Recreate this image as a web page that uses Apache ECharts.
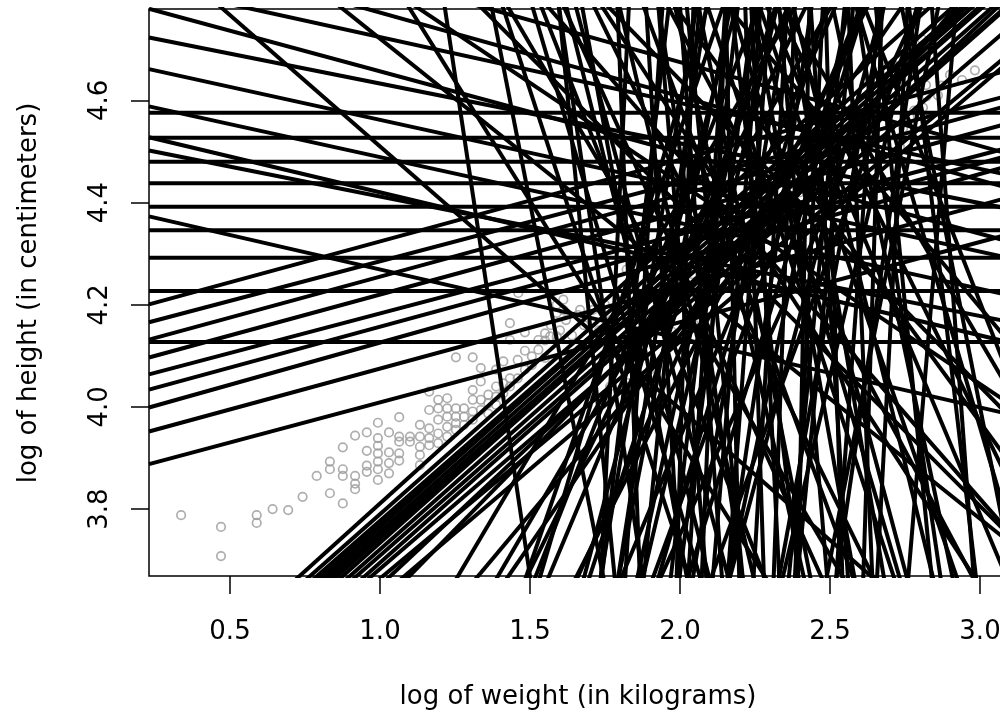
<!DOCTYPE html>
<html>
<head>
<meta charset="utf-8">
<script src="https://cdn.jsdelivr.net/npm/echarts@6/dist/echarts.min.js"></script>
<style>
  html, body { margin: 0; padding: 0; background: #fff; }
  #chart { width: 1000px; height: 722px; }
</style>
</head>
<body>
<div id="chart"></div>
<script>
// observed children: log of weight (kg) / log of height (cm)
const logWeight = [
  0.337, 0.470, 0.470, 0.589, 0.589, 0.642, 0.694, 0.742, 0.789, 0.833, 0.833, 0.833,
  0.876, 0.876, 0.876, 0.876, 0.917, 0.917, 0.917, 0.917, 0.956, 0.956, 0.956, 0.956,
  0.993, 0.993, 0.993, 0.993, 0.993, 0.993, 0.993, 1.030, 1.030, 1.030, 1.030,
  1.064, 1.064, 1.064, 1.064, 1.064, 1.100, 1.100, 1.133, 1.133, 1.133, 1.133, 1.133,
  1.164, 1.164, 1.164, 1.164, 1.164, 1.194, 1.194, 1.194, 1.194, 1.194,
  1.224, 1.224, 1.224, 1.224, 1.224, 1.253, 1.253, 1.253, 1.253, 1.253,
  1.280, 1.280, 1.280, 1.309, 1.309, 1.309, 1.309, 1.309, 1.336, 1.336, 1.336, 1.336,
  1.361, 1.361, 1.361, 1.387, 1.387, 1.387, 1.387, 1.411, 1.411, 1.411,
  1.433, 1.433, 1.433, 1.433, 1.459, 1.459, 1.483, 1.483, 1.483, 1.506, 1.506,
  1.528, 1.528, 1.550, 1.550, 1.567, 1.589, 1.589, 1.589, 1.611, 1.611, 1.461,
  2.983, 2.872, 2.806, 2.810, 2.733, 2.744, 2.700, 2.793, 2.822, 2.717, 2.733,
  1.989, 2.333, 2.250, 1.822, 2.161, 2.589, 1.667, 1.700, 1.839, 1.900, 1.828, 1.972, 1.767, 2.044,
  1.55, 1.57, 1.60, 1.62, 1.64, 1.66, 1.68, 1.71, 1.73, 1.75, 1.77, 1.80, 1.82, 1.85, 1.87,
  1.90, 1.93, 1.95, 1.98, 2.01, 2.04, 2.07, 2.10, 2.13, 2.16, 2.19, 2.22, 2.25, 2.28, 2.31,
  2.34, 2.37, 2.40, 2.43, 2.46, 2.49, 2.52, 2.55, 2.58, 2.61, 2.64, 2.67, 2.70, 2.74, 2.78,
  2.82, 2.86, 2.90, 2.94
];
const logHeight = [
  3.788, 3.765, 3.708, 3.788, 3.773, 3.800, 3.798, 3.824, 3.865, 3.893, 3.878, 3.831,
  3.921, 3.878, 3.865, 3.811, 3.944, 3.865, 3.850, 3.839, 3.950, 3.914, 3.885, 3.873,
  3.969, 3.939, 3.924, 3.909, 3.893, 3.878, 3.857, 3.950, 3.911, 3.890, 3.870,
  3.980, 3.942, 3.932, 3.909, 3.895, 3.942, 3.932, 3.965, 3.942, 3.922, 3.906, 3.886,
  3.994, 3.958, 3.939, 3.925, 4.030, 4.014, 3.997, 3.975, 3.948, 3.929,
  4.017, 3.997, 3.981, 3.961, 3.942, 4.097, 3.997, 3.981, 3.968, 3.955,
  3.997, 3.981, 3.965, 4.097, 4.033, 4.014, 3.991, 3.975, 4.076, 4.050, 4.014, 3.994,
  4.024, 4.007, 3.987, 4.073, 4.040, 4.020, 4.004, 4.089, 4.046, 4.027,
  4.164, 4.131, 4.056, 4.040, 4.092, 4.056, 4.146, 4.110, 4.073, 4.099, 4.082,
  4.131, 4.112, 4.144, 4.096, 4.138, 4.200, 4.184, 4.138, 4.190, 4.210, 4.223,
  4.659, 4.629, 4.720, 4.586, 4.510, 4.546, 4.530, 4.569, 4.608, 4.667, 4.680,
  4.360, 4.510, 4.497, 4.269, 4.239, 4.452, 4.190, 4.027, 4.095, 4.073, 4.063, 4.148, 4.040, 4.164,
  4.13, 4.16, 4.15, 4.17, 4.14, 4.18, 4.16, 4.19, 4.15, 4.20, 4.17, 4.22, 4.19, 4.23, 4.20,
  4.25, 4.22, 4.27, 4.24, 4.29, 4.26, 4.31, 4.28, 4.34, 4.31, 4.36, 4.33, 4.39, 4.36, 4.42,
  4.39, 4.44, 4.42, 4.47, 4.44, 4.49, 4.47, 4.52, 4.50, 4.54, 4.52, 4.57, 4.55, 4.60, 4.58,
  4.63, 4.61, 4.65, 4.64
];

// straight lines: height = intercept + slope * weight
const lineIntercept = [
  4.576, 4.527, 4.480, 4.438, 4.392, 4.346, 4.292, 4.227, 4.127,
  4.164, 4.130, 4.095, 4.060, 4.028, 3.997, 3.961, 3.915, 3.852,
  4.816, 4.750, 4.691, 4.618, 4.529, 4.404, 4.853, 4.936, 5.224, 5.003, 4.56,
  5.024, 5.191, 5.812, 5.567, 5.827, 8.590,
  3.281, 3.270, 3.262, 3.249, 3.240, 3.236, 3.233, 3.223, 3.209, 3.201, 3.194, 3.175, 3.178, 3.174, 3.128,
  2.419, 2.270, 2.455, 3.010, 2.740, 3.100,
  1.39, -0.03, -1.72, 0.61, -6.18, -1.025, 1.51, -3.485, -0.19, -4.97, 0.61, -2.39, -10.51, -1.10, -3.79,
  1.88, 0.60, -2.19, 0.30, -13.61, -3.80, 1.14, -1.35, 1.48, -0.185, -5.325, 1.15, -2.41, -6.42, 1.765,
  7.09, 9.28, 6.84, 10.97, 8.55, 9.73, 7.99, 11.81, 12.5, 7.79, 15.64, 9.13, 13.045, 7.57, 9.96,
  7.80, 6.21, 16.92, 6.94, 10.49, 6.37, 6.35, 15.14, 10.14, 6.88, 8.705, 6.295, 5.84, 8.90, 9.549,
  8.635, 9.94, 7.13, 18.28, 12.185, 13.0, 7.32,
  -17.17, 31.66, -12.69, 23.655, -36.11, 20.785, -25.35, 58.6, -11.1, 31.635,
  -18.785, 21.1, -68.145, 26.705, -10.68, 40.64, -16.5, 20.7, -25.56, 18.6,
  -7.61, 44.7, -33.33, 54.49, -43.33, 14.36, 27.5, -14.58, -24.93, -15.66,
  -5.03, 11.17, -3.15, 8.42, 1.14
];
const lineSlope = [
  0, 0, 0, 0, 0, 0, 0, 0, 0,
  0.16, 0.155, 0.16, 0.16, 0.155, 0.16, 0.165, 0.16, 0.157,
  -0.159, -0.117, -0.129, -0.129, -0.117, -0.135, -0.129, -0.164, -0.393, -0.164, -0.14,
  -0.514, -0.470, -0.939, -0.587, -0.669, -2.348,
  0.53, 0.52, 0.515, 0.52, 0.525, 0.52, 0.515, 0.52, 0.525, 0.52, 0.515, 0.52, 0.505, 0.49, 0.50,
  0.992, 1.004, 0.85, 0.60, 0.70, 0.55,
  1.5, 2.2, 3.0, 1.8, 5, 2.5, 1.3, 3.5, 2.0, 4, 1.6, 2.8, 6, 2.2, 3.2,
  1.2, 2.0, 2.5, 1.6, 8, 3, 1.4, 2.7, 1.4, 1.9, 4.5, 1.3, 3.5, 4, 1.15,
  -1.5, -2.5, -1.2, -3, -1.8, -2.2, -1.4, -2.8, -4, -1.6, -5, -2.0, -3.5, -1.2, -2.0,
  -2.0, -1.0, -6, -1.1, -2.4, -0.8, -0.9, -4, -3.2, -1.3, -1.5, -0.7, -0.6, -3, -3.92,
  -1.7, -2.6, -1.0, -7, -3.3, -3, -1.8,
  12, -15, 9, -10, 20, -8, 14, -25, 7, -12,
  10, -7, 30, -9, 6, -14, 8, -6, 11, -5,
  6, -18, 16, -20, 18, -6, -8, 9, 12, 7,
  5, -4, 3.8, -2.2, 1.7
];

const xTicks = [0.5, 1.0, 1.5, 2.0, 2.5, 3.0];
const yTicks = [3.8, 4.0, 4.2, 4.4, 4.6];

const X_MIN = 0.23, X_MAX = 3.09, Y_MIN = 3.669, Y_MAX = 4.779;
const FONT = 'DejaVu Sans';

const chart = echarts.init(document.getElementById('chart'), null, { renderer: 'canvas' });

const points = logWeight.map((w, i) => [w, logHeight[i]]);

const lineSeries = lineIntercept.map((a, i) => ({
    type: 'line',
    data: [[X_MIN, a + lineSlope[i] * X_MIN], [X_MAX, a + lineSlope[i] * X_MAX]],
    symbol: 'none',
    silent: true,
    clip: true,
    z: 3,
    lineStyle: { color: '#000', width: 4 }
}));

chart.setOption({
    animation: false,
    backgroundColor: '#fff',
    grid: {
        left: 149, right: -7, top: 9, bottom: 146,
        show: true, borderColor: '#000', borderWidth: 1.5,
        containLabel: false, outerBoundsMode: 'none'
    },
    xAxis: {
        type: 'value', min: X_MIN, max: X_MAX,
        axisLine: { show: false },
        splitLine: { show: false },
        axisTick: { show: true, customValues: xTicks, length: 18, lineStyle: { color: '#000', width: 1.5 } },
        axisLabel: {
            customValues: xTicks, margin: 43, color: '#000',
            fontFamily: FONT, fontSize: 26,
            formatter: (v) => v.toFixed(1)
        }
    },
    yAxis: {
        type: 'value', min: Y_MIN, max: Y_MAX,
        axisLine: { show: false },
        splitLine: { show: false },
        axisTick: { show: true, customValues: yTicks, length: 18, lineStyle: { color: '#000', width: 1.5 } },
        axisLabel: {
            customValues: yTicks, margin: 36, rotate: 90, color: '#000',
            fontFamily: FONT, fontSize: 26,
            formatter: (v) => v.toFixed(1)
        }
    },
    graphic: [
        {
            type: 'text', x: 578, y: 697,
            style: { text: 'log of weight (in kilograms)', fontFamily: FONT, fontSize: 26, fill: '#000', align: 'center', verticalAlign: 'middle' }
        },
        {
            type: 'text', x: 29, y: 293, rotation: Math.PI / 2,
            style: { text: 'log of height (in centimeters)', fontFamily: FONT, fontSize: 26, fill: '#000', align: 'center', verticalAlign: 'middle' }
        }
    ],
    series: [
        {
            type: 'scatter',
            data: points,
            symbol: 'circle',
            symbolSize: 8.5,
            z: 2,
            itemStyle: { color: 'rgba(0,0,0,0)', borderColor: '#9a9a9a', borderWidth: 1.7 }
        }
    ].concat(lineSeries)
});
</script>
</body>
</html>
